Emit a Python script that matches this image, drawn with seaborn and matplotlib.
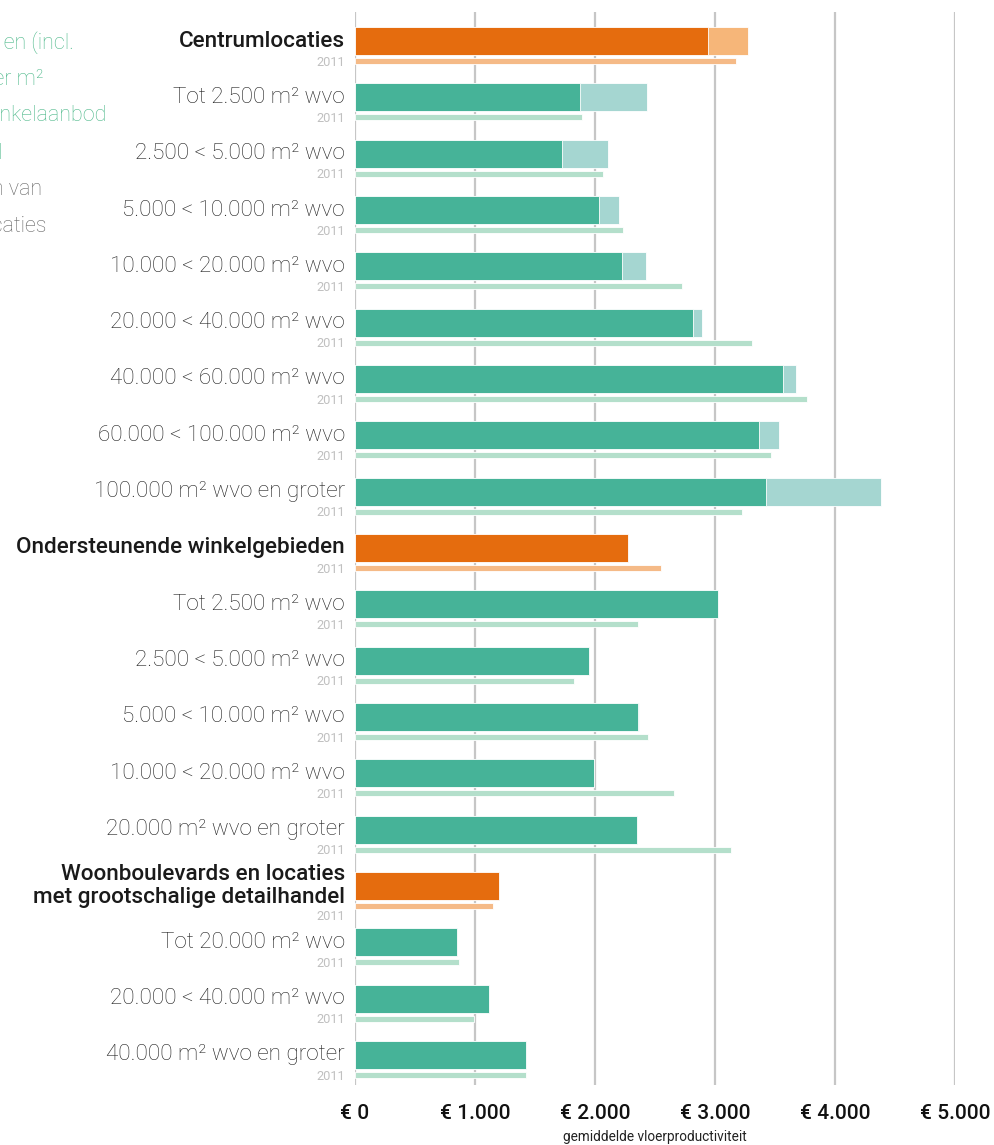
import numpy as np
import pandas as pd
import matplotlib
matplotlib.use('Agg')
import matplotlib.pyplot as plt
import seaborn as sns

# ------------------------------------------------------------
# data (euro per m2 wvo)
# ------------------------------------------------------------
labels = [
    'Centrumlocaties',
    'Tot 2.500 m² wvo',
    '2.500 < 5.000 m² wvo',
    '5.000 < 10.000 m² wvo',
    '10.000 < 20.000 m² wvo',
    '20.000 < 40.000 m² wvo',
    '40.000 < 60.000 m² wvo',
    '60.000 < 100.000 m² wvo',
    '100.000 m² wvo en groter',
    'Ondersteunende winkelgebieden',
    'Tot 2.500 m² wvo',
    '2.500 < 5.000 m² wvo',
    '5.000 < 10.000 m² wvo',
    '10.000 < 20.000 m² wvo',
    '20.000 m² wvo en groter',
    'Woonboulevards en locaties\nmet grootschalige detailhandel',
    'Tot 20.000 m² wvo',
    '20.000 < 40.000 m² wvo',
    '40.000 m² wvo en groter',
]
hoofdgroep = [True, False, False, False, False, False, False, False, False,
              True, False, False, False, False, False,
              True, False, False, False]

vp_2017 = [2942, 1875, 1725, 2033, 2225, 2817, 3567, 3367, 3425,
           2275, 3025, 1950, 2358, 1992, 2350,
           1200, 850, 1117, 1425]
# incl. extra (lichte verlenging van de balk)
vp_incl = [3275, 2433, 2108, 2200, 2425, 2892, 3675, 3533, 4383,
           2275, 3025, 1950, 2367, 1992, 2350,
           1200, 850, 1117, 1425]
vp_2011 = [3175, 1892, 2067, 2233, 2725, 3308, 3767, 3467, 3225,
           2554, 2358, 1825, 2442, 2658, 3133,
           1150, 867, 992, 1425]

ticks = [0, 1000, 2000, 3000, 4000, 5000]
tick_labels = ['€ 0', '€ 1.000', '€ 2.000', '€ 3.000', '€ 4.000', '€ 5.000']

# kleuren
ORANJE, ORANJE_LICHT, ORANJE_2011 = '#E56C0E', '#F6B679', '#F5BA87'
GROEN, GROEN_LICHT, GROEN_2011 = '#46B398', '#A5D6D1', '#B4DFCB'

df = pd.DataFrame({
    'pos': np.arange(len(labels)),
    'groep': ['hoofd' if h else 'sub' for h in hoofdgroep],
    'vp_2017': vp_2017,
    'vp_incl': vp_incl,
    'vp_2011': vp_2011,
})
df['pos_2011'] = df['pos'] + 0.355

# ------------------------------------------------------------
# figuur
# ------------------------------------------------------------
sns.set_theme(style='white')
plt.rcParams['font.family'] = ['Roboto', 'DejaVu Sans']

W, H = 995, 1145
fig = plt.figure(figsize=(W / 100, H / 100), dpi=100)
ax = fig.add_axes([355 / W, 1 - 1085 / H, 600 / W, 1073 / H])

kw = dict(orient='h', native_scale=True, dodge=False, errorbar=None,
          legend=False, ax=ax, saturation=1, edgecolor='white', linewidth=0.6)

sns.barplot(data=df, x='vp_incl', y='pos', hue='groep', width=0.5,
            palette={'hoofd': ORANJE_LICHT, 'sub': GROEN_LICHT}, **kw)
sns.barplot(data=df, x='vp_2017', y='pos', hue='groep', width=0.5,
            palette={'hoofd': ORANJE, 'sub': GROEN}, **kw)
sns.barplot(data=df, x='vp_2011', y='pos_2011', hue='groep', width=0.11,
            palette={'hoofd': ORANJE_2011, 'sub': GROEN_2011}, **kw)

ax.set_xlim(0, 5000)
ax.set_ylim(18.533, -0.515)
ax.set_xticks(ticks)
ax.set_xticklabels(tick_labels, fontsize=15, fontweight='medium', color='#111111')
ax.tick_params(axis='x', length=0, pad=14)
ax.set_yticks([])
ax.set_xlabel('')
ax.set_ylabel('')
ax.xaxis.grid(True, color='#c6c6c6', linewidth=1.6)
ax.set_axisbelow(True)
for s in ax.spines.values():
    s.set_visible(False)

# categorie labels + '2011'
xl = -10 / 600
for i, lab in enumerate(labels):
    if hoofdgroep[i]:
        ax.text(xl, i, lab, transform=ax.get_yaxis_transform(), ha='right',
                va='center', fontsize=16.2, fontweight='medium', color='#1a1a1a',
                linespacing=1.15)
    else:
        ax.text(xl, i, lab, transform=ax.get_yaxis_transform(), ha='right',
                va='center', fontsize=16.2, fontweight='light', color='#222222')
    dy = 0.55 if '\n' in lab else 0.375
    ax.text(xl, i + dy, '2011', transform=ax.get_yaxis_transform(), ha='right',
            va='center', fontsize=9.2, color='#c0c0c0')

fig.text(655 / W, 1 - 1137 / H, 'gemiddelde vloerproductiviteit',
         ha='center', va='center', fontsize=9.8, color='#222222')

# afgesneden toelichting links
toelichting = [
    ('Gemiddelde vloerproductiviteit per gebied en (incl.', 74, 43, '#4FB98B'),
    ('leegstand) per m²', 43, 79, '#4FB98B'),
    ('wvo, naar omvang winkelaanbod', 106, 115, '#4FB98B'),
    ('totaal', 3, 153, '#4FB98B'),
    ('onderste balk: metingen van', 42, 190, '#666666'),
    ('alle locaties', 47, 227, '#666666'),
]
for tekst, xr, yc, kleur in toelichting:
    fig.text(xr / W, 1 - yc / H, tekst, ha='right', va='center',
             fontsize=15.5, fontweight='light', color=kleur)

fig.savefig('out.png', dpi=100)
